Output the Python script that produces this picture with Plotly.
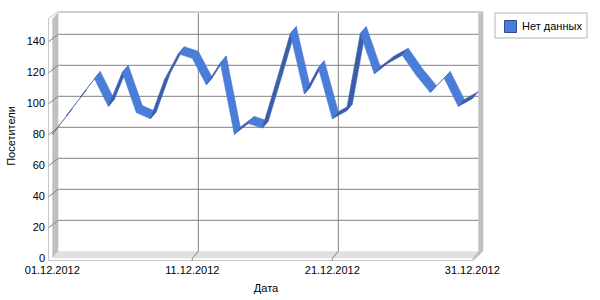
import plotly.graph_objects as go
import pandas as pd

# ---------------- data ----------------
dates = list(pd.date_range("2012-12-01", "2012-12-31", freq="D"))
visitors = [80, 92, 104, 116, 98, 120, 94, 90, 115, 132, 129, 112, 126, 80, 87,
            84, 114, 145, 106, 123, 90, 95, 145, 119, 126, 131, 118, 107, 116, 98, 103]
y_ticks = [0, 20, 40, 60, 80, 100, 120, 140]
x_tick_dates = ["2012-12-01", "2012-12-11", "2012-12-21", "2012-12-31"]
series_name = "Нет данных"
x_title = "Дата"
y_title = "Посетители"

# ---------------- 3D projection geometry ----------------
W, H = 600, 300
L, R, T, B = 48, 484, 10, 262          # plot area in pixels
X0, Y0 = 52.3, 258.3                   # pixel of front (day 0, value 0)
PX_DAY, PX_UNIT = 14.0, 1.55
DEPTH_X, DEPTH_Y = 6.0, 7.0            # depth offset, pixels (right, up)
dx_days = DEPTH_X / PX_DAY
dy_units = DEPTH_Y / PX_UNIT
base = pd.Timestamp("2012-12-01")

LIGHT = "#4a7cd9"
DARK = "#3a5ea9"
WALL = "#c0c0c0"
FLOOR = "#e0e0e0"
GRID = "#808080"


def px2x(px):
    return base + pd.Timedelta(days=(px - X0) / PX_DAY)


def px2y(py):
    return (Y0 - py) / PX_UNIT


def back_x(d):
    return d + pd.Timedelta(days=dx_days)


def back_y(v):
    return v + dy_units


traces = []


def poly_px(pts, fill):
    xs = [px2x(p[0]) for p in pts] + [px2x(pts[0][0])]
    ys = [px2y(p[1]) for p in pts] + [px2y(pts[0][1])]
    traces.append(go.Scatter(x=xs, y=ys, mode="lines", fill="toself",
                             fillcolor=fill, line=dict(width=0, color=fill),
                             hoverinfo="skip", showlegend=False))


def line_data(xs, ys, color, width=1):
    traces.append(go.Scatter(x=xs, y=ys, mode="lines",
                             line=dict(color=color, width=width),
                             hoverinfo="skip", showlegend=False))


def line_px(pts, color, width=1):
    line_data([px2x(p[0]) for p in pts], [px2y(p[1]) for p in pts], color, width)


# walls
bx_l = X0 + DEPTH_X
bx_r = X0 + 30 * PX_DAY + DEPTH_X
by_0 = Y0 - DEPTH_Y
top_b = 12
poly_px([(X0, top_b + DEPTH_Y), (bx_l, top_b), (bx_l, by_0), (X0, Y0)], WALL)        # left wall
poly_px([(bx_l, by_0), (bx_r, by_0), (bx_r - DEPTH_X, Y0), (X0, Y0)], FLOOR)          # floor
poly_px([(bx_r, top_b), (bx_r + 5, top_b), (bx_r + 5, by_0), (bx_r - 5, 260.7),
         (bx_r - DEPTH_X, Y0), (bx_r, by_0)], WALL)                                   # right wall
line_px([(bx_l, top_b), (bx_r + 5, top_b)], "#d0d0d0", 2)                             # top edge
line_px([(48.5, 18.5), (bx_l, 11.5)], "#c8c8c8", 1)
line_px([(48.5, 18.5), (48.5, 260.5), (bx_r - 5, 260.5)], "#c8c8c8", 1)               # box outline

# horizontal grid lines on back wall
for v in y_ticks[1:]:
    line_data([back_x(dates[0]), back_x(dates[-1])], [back_y(v), back_y(v)], GRID, 1)
    fy = Y0 - v * PX_UNIT
    line_data([px2x(48.5), back_x(dates[0])], [px2y(fy + 0.5), back_y(v)], GRID, 1)

# vertical grid lines on back wall
for ds in x_tick_dates[1:3]:
    d = pd.Timestamp(ds)
    line_data([back_x(d), back_x(d), d, d],
              [px2y(top_b + 1), back_y(0), 0, px2y(260.7)], GRID, 1)

# ribbon
for i in range(len(visitors) - 1):
    d1, d2 = dates[i], dates[i + 1]
    v1, v2 = visitors[i], visitors[i + 1]
    col = DARK if v2 > v1 else LIGHT
    xs = [d1, d2, back_x(d2), back_x(d1), d1]
    ys = [v1, v2, back_y(v2), back_y(v1), v1]
    traces.append(go.Scatter(x=xs, y=ys, mode="lines", fill="toself",
                             fillcolor=col, line=dict(width=0.6, color=col),
                             hoverinfo="skip", showlegend=False,
                             name=series_name))

fig = go.Figure(traces)
font = dict(family="Liberation Sans, Arial, sans-serif", size=11, color="black")

# legend box (drawn in container pixels)
def cx(px):
    return px / W


def cy(py):
    return 1 - py / H


fig.add_shape(type="rect", xref="paper", yref="paper",
              x0=(495 - L) / (R - L), x1=(587 - L) / (R - L),
              y0=(B - 38) / (B - T), y1=(B - 13) / (B - T),
              line=dict(color="#b4b4b4", width=1), fillcolor="white")
fig.add_shape(type="rect", xref="paper", yref="paper",
              x0=(504.5 - L) / (R - L), x1=(516.5 - L) / (R - L),
              y0=(B - 32.5) / (B - T), y1=(B - 20.5) / (B - T),
              line=dict(color="#2f4f8f", width=1), fillcolor=LIGHT)
fig.add_annotation(text=series_name, xref="paper", yref="paper",
                   x=(520 - L) / (R - L), y=(B - 26.5) / (B - T),
                   xanchor="left", yanchor="middle", showarrow=False, font=font)

fig.update_layout(
    width=W, height=H,
    margin=dict(l=L, r=W - R, t=T, b=H - B, autoexpand=False),
    paper_bgcolor="white", plot_bgcolor="white",
    font=font,
    showlegend=False,
    xaxis=dict(type="date", range=[px2x(L), px2x(R)], tickvals=x_tick_dates,
               tickformat="%d.%m.%Y", showgrid=False, zeroline=False,
               showline=False, ticks="", fixedrange=True,
               title=dict(text=x_title, standoff=9, font=font)),
    yaxis=dict(range=[px2y(B), px2y(T)], tickvals=y_ticks, showgrid=False,
               zeroline=False, showline=False, ticks="", ticklabelstandoff=2,
               title=dict(text=y_title, standoff=8, font=font)),
)
fig.write_html("out.html")
